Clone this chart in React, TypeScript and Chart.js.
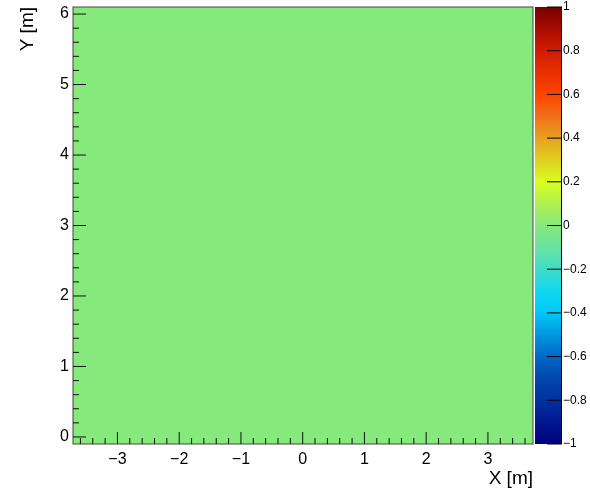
import React, { useEffect, useRef } from "react";
import { Chart, registerables } from "chart.js";

Chart.register(...registerables);

// ---------------- data ----------------
const xBinEdges = [-3.72, -2, 0, 2, 3.73];
const yBinEdges = [-0.1, 2, 4, 6.1];
// binContents[yBin][xBin]
const binContents = [
  [0, 0, 0, 0],
  [0, 0, 0, 0],
  [0, 0, 0, 0],
];
const xTickValues = [-3, -2, -1, 0, 1, 2, 3];
const yTickValues = [0, 1, 2, 3, 4, 5, 6];
const zTickValues = [-1, -0.8, -0.6, -0.4, -0.2, 0, 0.2, 0.4, 0.6, 0.8, 1];
const xAxisRange = [-3.72, 3.73];
const yAxisRange = [-0.1, 6.1];
const zAxisRange = [-1, 1];
const xAxisTitle = "X [m]";
const yAxisTitle = "Y [m]";

// ---------------- style ----------------
const PALETTE: [number, string][] = [
  [-1.0, "#000080"],
  [-0.9, "#001890"],
  [-0.8, "#0030a0"],
  [-0.7, "#0048b0"],
  [-0.6, "#0068c8"],
  [-0.5, "#0098e0"],
  [-0.4, "#00c8f8"],
  [-0.3, "#10d8f0"],
  [-0.2, "#40dcc8"],
  [-0.1, "#68e4a0"],
  [0.0, "#86e97c"],
  [0.1, "#b0f050"],
  [0.2, "#d8ff20"],
  [0.3, "#e0d020"],
  [0.4, "#e6a020"],
  [0.5, "#f07018"],
  [0.6, "#ff4400"],
  [0.7, "#e83000"],
  [0.8, "#d01c00"],
  [0.9, "#a80c00"],
  [1.0, "#780000"],
];
const FONT = '"Liberation Sans", Arial, Helvetica, sans-serif';

function hexToRgb(h: string) {
  const n = parseInt(h.slice(1), 16);
  return [(n >> 16) & 255, (n >> 8) & 255, n & 255];
}
function paletteColor(v: number) {
  const zmin = zAxisRange[0], zmax = zAxisRange[1];
  const c = Math.max(zmin, Math.min(zmax, v));
  for (let i = 0; i < PALETTE.length - 1; i++) {
    const [a, ca] = PALETTE[i];
    const [b, cb] = PALETTE[i + 1];
    if (c >= a && c <= b) {
      const t = b === a ? 0 : (c - a) / (b - a);
      const A = hexToRgb(ca), B = hexToRgb(cb);
      const r = Math.round(A[0] + (B[0] - A[0]) * t);
      const g = Math.round(A[1] + (B[1] - A[1]) * t);
      const bl = Math.round(A[2] + (B[2] - A[2]) * t);
      return `rgb(${r},${g},${bl})`;
    }
  }
  return PALETTE[PALETTE.length - 1][1];
}
function fmt(v: number) {
  const r = Math.round(v * 1000) / 1000;
  if (r === 0) return "0";
  return r < 0 ? "\u2212" + String(Math.abs(r)) : String(r);
}
function noPad(s: any) {
  s.paddingTop = 0;
  s.paddingBottom = 0;
  s.paddingLeft = 0;
  s.paddingRight = 0;
}

const histPlugin = {
  id: "hist2d",
  beforeDatasetsDraw(chart: any) {
    const { ctx, chartArea: ca } = chart;
    const xs = chart.scales.x, ys = chart.scales.y;
    ctx.save();
    ctx.beginPath();
    ctx.rect(ca.left, ca.top, ca.right - ca.left, ca.bottom - ca.top);
    ctx.clip();
    for (let j = 0; j < yBinEdges.length - 1; j++) {
      for (let i = 0; i < xBinEdges.length - 1; i++) {
        const x0 = Math.floor(xs.getPixelForValue(xBinEdges[i]));
        const x1 = Math.ceil(xs.getPixelForValue(xBinEdges[i + 1]));
        const y0 = Math.floor(ys.getPixelForValue(yBinEdges[j + 1]));
        const y1 = Math.ceil(ys.getPixelForValue(yBinEdges[j]));
        ctx.fillStyle = paletteColor(binContents[j][i]);
        ctx.fillRect(x0, y0, x1 - x0, y1 - y0);
      }
    }
    ctx.restore();
  },
  afterDatasetsDraw(chart: any) {
    const { ctx, chartArea: ca } = chart;
    const xs = chart.scales.x, ys = chart.scales.y, zs = chart.scales.z;
    ctx.save();
    // frame
    ctx.strokeStyle = "#444";
    ctx.lineWidth = 1;
    ctx.strokeRect(ca.left, ca.top, ca.right - ca.left, ca.bottom - ca.top);

    // ticks
    ctx.strokeStyle = "#111";
    ctx.beginPath();
    const step = 0.2;
    for (let k = Math.ceil(xAxisRange[0] / step); k * step <= xAxisRange[1]; k++) {
      const v = k * step;
      const major = xTickValues.some((t) => Math.abs(t - v) < 1e-6);
      const px = xs.getPixelForValue(v);
      ctx.moveTo(px, ca.bottom);
      ctx.lineTo(px, ca.bottom - (major ? 12 : 6));
    }
    for (let k = Math.ceil(yAxisRange[0] / step); k * step <= yAxisRange[1]; k++) {
      const v = k * step;
      const major = yTickValues.some((t) => Math.abs(t - v) < 1e-6);
      const py = ys.getPixelForValue(v);
      ctx.moveTo(ca.left, py);
      ctx.lineTo(ca.left + (major ? 13 : 6), py);
    }
    ctx.stroke();

    // colour bar
    const cbL = ca.right + 2, cbR = ca.right + 29;
    const zTop = zs.getPixelForValue(zAxisRange[1]);
    const zBot = zs.getPixelForValue(zAxisRange[0]);
    const grad = ctx.createLinearGradient(0, zBot, 0, zTop);
    for (const [v, c] of PALETTE) {
      grad.addColorStop((v - zAxisRange[0]) / (zAxisRange[1] - zAxisRange[0]), c);
    }
    ctx.fillStyle = grad;
    ctx.fillRect(cbL, zTop, cbR - cbL, zBot - zTop);
    ctx.strokeStyle = "#000";
    ctx.beginPath();
    ctx.moveTo(cbR - 0.5, zTop);
    ctx.lineTo(cbR - 0.5, zBot);
    for (const v of zTickValues) {
      const py = zs.getPixelForValue(v);
      ctx.moveTo(cbR, py);
      ctx.lineTo(cbR - 15, py);
    }
    ctx.stroke();

    // titles
    ctx.fillStyle = "#000";
    ctx.font = `19px ${FONT}`;
    ctx.textAlign = "right";
    ctx.textBaseline = "alphabetic";
    ctx.fillText(xAxisTitle, ca.right, 484);
    ctx.translate(33, ca.top);
    ctx.rotate(-Math.PI / 2);
    ctx.fillText(yAxisTitle, 0, 0);
    ctx.restore();
  },
};

export default function App() {
  const ref = useRef<HTMLCanvasElement>(null);
  useEffect(() => {
    const tickFont = { family: FONT, size: 16 };
    const chart = new Chart(ref.current as HTMLCanvasElement, {
      type: "scatter",
      data: { datasets: [] },
      options: {
        responsive: false,
        animation: false,
        devicePixelRatio: 1,
        layout: { padding: { top: 7, left: 0, right: 0, bottom: 0 } },
        plugins: { legend: { display: false }, tooltip: { enabled: false } },
        scales: {
          x: {
            type: "linear",
            position: "bottom",
            min: xAxisRange[0],
            max: xAxisRange[1],
            grid: { display: false, drawTicks: false },
            border: { display: false },
            afterBuildTicks: (s: any) => {
              s.ticks = xTickValues.map((v) => ({ value: v }));
            },
            afterFit: (s: any) => {
              s.height = 46;
              noPad(s);
            },
            ticks: {
              font: tickFont,
              color: "#000",
              padding: 6,
              maxRotation: 0,
              autoSkip: false,
              callback: (v: any) => fmt(Number(v)),
            },
          },
          y: {
            type: "linear",
            position: "left",
            min: yAxisRange[0],
            max: yAxisRange[1],
            grid: { display: false, drawTicks: false },
            border: { display: false },
            afterBuildTicks: (s: any) => {
              s.ticks = yTickValues.map((v) => ({ value: v }));
            },
            afterFit: (s: any) => {
              s.width = 73;
              noPad(s);
            },
            ticks: {
              font: tickFont,
              color: "#000",
              padding: 4,
              autoSkip: false,
              callback: (v: any) => fmt(Number(v)),
            },
          },
          z: {
            type: "linear",
            axis: "y",
            position: "right",
            min: zAxisRange[0],
            max: zAxisRange[1],
            grid: { display: false, drawTicks: false },
            border: { display: false },
            afterBuildTicks: (s: any) => {
              s.ticks = zTickValues.map((v) => ({ value: v }));
            },
            afterFit: (s: any) => {
              s.width = 57;
              noPad(s);
            },
            ticks: {
              font: { family: FONT, size: 12 },
              color: "#000",
              padding: 30,
              autoSkip: false,
              callback: (v: any) => fmt(Number(v)),
            },
          },
        } as any,
      },
      plugins: [histPlugin],
    } as any);
    return () => chart.destroy();
  }, []);
  return (
    <div style={{ position: "fixed", left: 0, top: 0, width: 590, height: 490, background: "#fff" }}>
      <canvas ref={ref} width={590} height={490} style={{ width: 590, height: 490, display: "block" }} />
    </div>
  );
}
